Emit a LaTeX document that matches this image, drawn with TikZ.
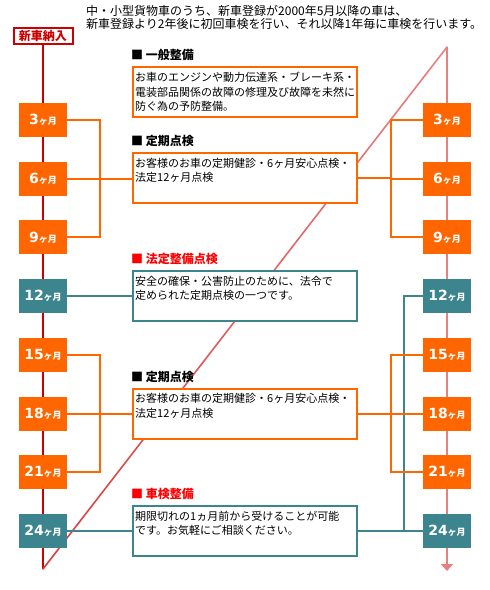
\documentclass[tikz,border=0pt]{standalone}
\usepackage{fontspec}
\setmainfont{Noto Sans CJK JP}
\newfontfamily\numfont{DejaVu Sans}
\usepackage{xcolor}
\usetikzlibrary{arrows.meta,calc}
\definecolor{sorange}{HTML}{FF6600}
\definecolor{steal}{HTML}{3D858E}
\definecolor{sred}{HTML}{CC0000}
\definecolor{spink}{HTML}{E88080}
\definecolor{dred}{HTML}{D83C3C}
\definecolor{hred}{HTML}{FF0000}
\newcommand{\mlab}[1]{%
  {\numfont\bfseries\fontsize{14}{14}\selectfont #1}{\bfseries\fontsize{9}{9}\selectfont ヶ月}}
\newcommand{\descbox}[6]{%
  \node[dbox,draw=#3] (#1) at (245,#2) {};
  \node[head,text=#4,anchor=west] (#1h) at ($(#1.north west)+(-1,-11)$) {■ #5};
  \node[dtext,anchor=north west] (#1t) at ($(#1.north west)+(3,6)$) {#6};
}

\begin{document}
\begin{tikzpicture}[x=1pt,y=-1pt,
  mbox/.style={minimum width=48,minimum height=34,inner sep=0,text=white},
  dbox/.style={line width=2,fill=white,minimum width=224,minimum height=50,inner sep=0},
  head/.style={font=\bfseries\fontsize{12}{12}\selectfont,inner sep=0},
  dtext/.style={font=\fontsize{11}{14.5}\selectfont,align=left,text width=222,inner sep=0},
  oline/.style={draw=sorange,line width=2},
  tline/.style={draw=steal,line width=2}]
  \useasboundingbox (0,0) rectangle (490,590);
  \node[anchor=north west,align=left,inner sep=0,font=\fontsize{12}{13.5}\selectfont] (intro) at (86,5)
    {中・小型貨物車のうち、新車登録が2000年5月以降の車は、\\
     新車登録より2年後に初回車検を行い、それ以降1年毎に車検を行います。};
  \node[draw=sred,line width=2,fill=white,text=sred,minimum width=59,minimum height=16,inner sep=0,
    font=\bfseries\fontsize{12}{12}\selectfont] (start) at (43,36) {新車納入};
  \coordinate (lend) at (43,569);
  \coordinate (rtop) at (447,47);
  \coordinate (rend) at (447,571);
  \coordinate (BL) at (100,0);
  \coordinate (BR) at (391,0);
  \coordinate (BT) at (404,0);
  \draw[sred,line width=2] (start.south) -- (lend);
  \draw[spink,line width=2,-{Triangle[width=12pt,length=7pt]}] (rtop) -- (rend);
  \foreach \i [evaluate=\i as \a using (\i-1)/20, evaluate=\i as \b using \i/20,
      evaluate=\i as \p using 5*\i] in {1,...,20}
    \draw[spink!\p!dred,line width=1.6,line cap=round] ($(lend)!\a!(rtop)$) -- ($(lend)!\b!(rtop)$);
  \foreach \m/\c [count=\i from 0] in {3/sorange,6/sorange,9/sorange,12/steal,
      15/sorange,18/sorange,21/sorange,24/steal} {
    \pgfmathsetmacro\yy{120+\i*58.7}
    \node[mbox,fill=\c] (L\m) at (43,\yy) {\mlab{\m}};
    \node[mbox,fill=\c] (R\m) at (447,\yy) {\mlab{\m}};
  }
  \descbox{D1}{92}{sorange}{black}{一般整備}
    {お車のエンジンや動力伝達系・ブレーキ系・\\電装部品関係の故障の修理及び故障を未然に\\防ぐ為の予防整備。}
  \descbox{D2}{178}{sorange}{black}{定期点検}
    {お客様のお車の定期健診・6ヶ月安心点検・\\法定12ヶ月点検}
  \descbox{D3}{296}{steal}{hred}{法定整備点検}
    {安全の確保・公害防止のために、法令で\\定められた定期点検の一つです。}
  \descbox{D4}{413.5}{sorange}{black}{定期点検}
    {お客様のお車の定期健診・6ヶ月安心点検・\\法定12ヶ月点検}
  \descbox{D5}{530.5}{steal}{hred}{車検整備}
    {期限切れの1ヵ月前から受けることが可能\\です。お気軽にご相談ください。}
  \draw[tline] (L12.east) -- (L12.east -| D3.west);
  \draw[tline] (L24.east) -- (L24.east -| D5.west);
  \draw[tline] (R12.west) -- (R12.west -| BT) |- (R24.west);
  \draw[tline] (D5.east) -- (D5.east -| R24.west);
  \draw[oline] (L3.east) -- (L3.east -| BL) |- (L9.east);
  \draw[oline] (L6.east) -- (L6.east -| D2.west);
  \draw[oline] (D2.east) -- (D2.east -| BR);
  \draw[oline] (R3.west) -- (R3.west -| BR) |- (R9.west);
  \draw[oline] (R6.west) -- (R6.west -| BR);
  \draw[oline] (L15.east) -- (L15.east -| BL) |- (L21.east);
  \draw[oline] (L18.east) -- (L18.east -| D4.west);
  \draw[oline] (D4.east) -- (D4.east -| BR);
  \draw[oline] (R15.west) -- (R15.west -| BR) |- (R21.west);
  \draw[oline] (R18.west) -- (R18.west -| BR);
\end{tikzpicture}
\end{document}
